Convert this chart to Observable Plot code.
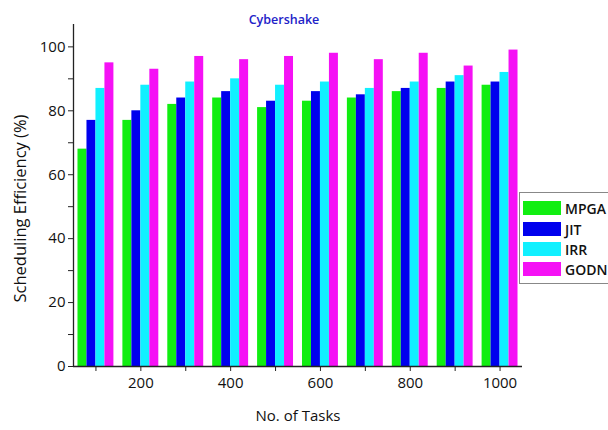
<!DOCTYPE html>
<html>
<head>
<meta charset="utf-8">
<script src="https://cdn.jsdelivr.net/npm/d3@7"></script>
<script src="https://cdn.jsdelivr.net/npm/@observablehq/plot@0.6"></script>
<style>
  body { margin: 0; background: #fff; }
  #wrap { position: relative; width: 608px; height: 430px; font-family: "Open Sans", sans-serif; }
  #legend { position: absolute; left: 519px; top: 192px; width: 92px; height: 92px; border: 1px solid #888; box-sizing: border-box; background: #fff; }
  .row { position: absolute; left: 3px; height: 14px; display: flex; align-items: center; }
  .sw { width: 38px; height: 14px; }
  .lab { margin-left: 4px; font-size: 14px; font-weight: 600; color: #111; }
</style>
</head>
<body>
<div id="wrap"><div id="chart"></div><div id="legend"></div></div>
<script>
const tasks = [100, 200, 300, 400, 500, 600, 700, 800, 900, 1000];
const series = ["MPGA", "JIT", "IRR", "GODN"];
const mpga = [68, 77, 82, 84, 81, 83, 84, 86, 87, 88];
const jit  = [77, 80, 84, 86, 83, 86, 85, 87, 89, 89];
const irr  = [87, 88, 89, 90, 88, 89, 87, 89, 91, 92];
const godn = [95, 93, 97, 96, 97, 98, 96, 98, 94, 99];
const colors = ["#11ee11", "#0000ee", "#11f0ff", "#f511f5"];
const yMajor = [0, 20, 40, 60, 80, 100];
const yMinor = [10, 30, 50, 70, 90];
const xLabeled = [200, 400, 600, 800, 1000];
const xMinor = [100, 300, 500, 700, 900];

const valuesBySeries = [mpga, jit, irr, godn];
const rows = [];
series.forEach((s, i) => tasks.forEach((t, j) => rows.push({task: t, series: s, i, value: valuesBySeries[i][j]})));

const barW = 20;
const chart = Plot.plot({
  width: 608, height: 430,
  marginLeft: 73, marginRight: 86, marginTop: 24, marginBottom: 64,
  style: {fontFamily: "Open Sans, sans-serif", fontSize: "15px", color: "#111", background: "#fff"},
  x: {domain: [50, 1050]},
  y: {domain: [0, 107]},
  color: {domain: series, range: colors},
  marks: [
    Plot.rectY(rows, {x1: d => d.task - 2 * barW + d.i * barW, x2: d => d.task - barW + d.i * barW, y1: 0, y2: "value", fill: "series"}),
    Plot.axisY({ticks: yMajor, tickSize: 5, tickPadding: 3, label: null, stroke: "#222", fontSize: 15, fill: "#111"}),
    Plot.axisY({ticks: yMinor, tickSize: 5, tickFormat: () => "", label: null, stroke: "#222"}),
    Plot.axisX({ticks: xLabeled, tickSize: 5, tickPadding: 6, tickFormat: d => String(d), label: null, stroke: "#222", fontSize: 15, fill: "#111"}),
    Plot.axisX({ticks: xMinor, tickSize: 5, tickFormat: () => "", label: null, stroke: "#222"}),
    Plot.ruleX([50], {stroke: "#222", strokeWidth: 1.3}),
    Plot.ruleY([0], {stroke: "#222", strokeWidth: 1.3}),
    Plot.text(["Cybershake"], {text: d => d, frameAnchor: "top", dy: -9, dx: -14, fill: "#2222c8", fontSize: 12.5, fontWeight: 600}),
    Plot.text(["No. of Tasks"], {text: d => d, frameAnchor: "bottom", dy: 54, fontSize: 15, fill: "#111"}),
    Plot.text(["Scheduling Efficiency (%)"], {text: d => d, frameAnchor: "left", textAnchor: "middle", dx: -53, dy: 13, rotate: -90, fontSize: 16.5, fill: "#111"})
  ]
});
document.getElementById("chart").appendChild(chart);

const legend = document.getElementById("legend");
const rowTops = [8, 29, 49, 69];
series.forEach((s, i) => {
  const r = document.createElement("div");
  r.className = "row";
  r.style.top = rowTops[i] + "px";
  r.innerHTML = `<div class="sw" style="background:${colors[i]}"></div><span class="lab">${s}</span>`;
  legend.appendChild(r);
});
</script>
</body>
</html>
